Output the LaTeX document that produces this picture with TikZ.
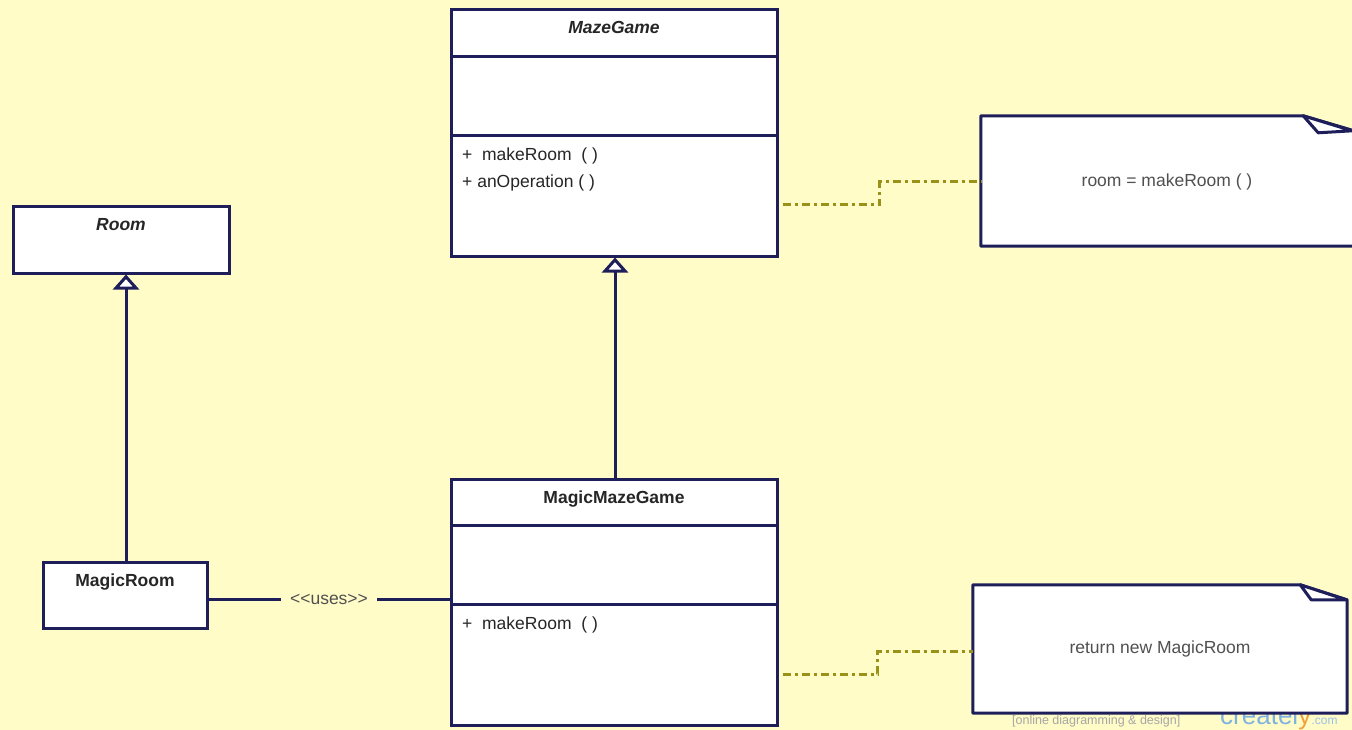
\documentclass[tikz,border=0pt]{standalone}
\usepackage{fontspec}
\setmainfont{Liberation Sans}
\usetikzlibrary{arrows.meta}

\definecolor{paper}{HTML}{FFFCC8}
\definecolor{navy}{HTML}{1E1E5A}
\definecolor{olive}{HTML}{9A9218}
\definecolor{notetext}{HTML}{505050}
\definecolor{brandblue}{HTML}{7FB2E0}
\definecolor{brandorange}{HTML}{F2A23A}

\tikzset{
  classbox/.style={draw=navy, line width=3pt, fill=white, rectangle, inner sep=0pt},
  rule/.style={draw=navy, line width=3pt},
  notebox/.style={draw=navy, line width=3pt, fill=white, line join=round},
  noteframe/.style={rectangle, inner sep=0pt},
  lbl/.style={inner sep=0pt, font=\fontsize{17.5}{20}\selectfont, text=black!85},
  notelbl/.style={inner sep=0pt, font=\fontsize{17.5}{20}\selectfont, text=notetext},
  inherit/.style={draw=navy, line width=3pt,
    -{Triangle[length=15pt, width=26pt, fill=white, line width=3pt]}},
  assoc/.style={draw=navy, line width=3pt},
  noteline/.style={draw=olive, line width=3pt,
    dash pattern=on 8pt off 4pt on 3pt off 4pt, dash phase=15pt},
}

\begin{document}
\begin{tikzpicture}[x=1pt, y=-1pt]
  \fill[paper] (0,0) rectangle (1352,730);
  \useasboundingbox (0,0) rectangle (1352,730);

  % watermark, lying under the lower note
  \node[anchor=base west, inner sep=0pt, text=black!35,
        font=\fontsize{12.5}{14}\selectfont] (wmtag) at (1012,724)
        {[online diagramming \& design]};
  \node[anchor=base west, inner sep=0pt,
        font=\fontsize{26}{28}\selectfont] (wmname) at (1220,724)
        {\textcolor{brandblue}{createl}\textcolor{brandorange}{y}};
  \node[anchor=base west, inner sep=0pt, text=brandblue!80,
        font=\fontsize{12}{13}\selectfont] (wmcom) at (wmname.base east)
        {.com};

  % classes
  \node[classbox, minimum width=326pt, minimum height=246pt] (maze) at (614,133) {};
  \draw[rule] (451,57) -- (777,57);
  \draw[rule] (451,136) -- (777,136);
  \node[lbl, anchor=base] (mazetitle) at (614,34) {\bfseries\itshape MazeGame};
  \node[lbl, anchor=base west] (mazeop1) at (462,161) {+\ \ makeRoom\ \ ( )};
  \node[lbl, anchor=base west] (mazeop2) at (462,188) {+ anOperation ( )};

  \node[classbox, minimum width=326pt, minimum height=246pt] (magicmaze) at (614,602) {};
  \draw[rule] (451,525) -- (777,525);
  \draw[rule] (451,604) -- (777,604);
  \node[lbl, anchor=base] (magicmazetitle) at (614,503) {\bfseries MagicMazeGame};
  \node[lbl, anchor=base west] (magicmazeop1) at (462,629) {+\ \ makeRoom\ \ ( )};

  \node[classbox, minimum width=216pt, minimum height=66pt] (room) at (121,240) {};
  \node[lbl, anchor=base] (roomtitle) at (121,231) {\bfseries\itshape Room};

  \node[classbox, minimum width=164pt, minimum height=66pt] (magicroom) at (125,595) {};
  \node[lbl, anchor=base] (magicroomtitle) at (125,586) {\bfseries MagicRoom};

  % generalisations
  \draw[inherit] ([xshift=1pt]magicmaze.north) -- ([xshift=1pt]maze.south);
  \draw[inherit] ([xshift=1pt]magicroom.north) -- ([xshift=1pt]magicroom.north |- room.south);

  % dependency
  \draw[assoc] ([yshift=-4pt]magicroom.east)
    -- node[notelbl, fill=paper, inner xsep=9pt, inner ysep=2pt]
       {<\kern0pt<uses>\kern0pt>}
    ([yshift=-4pt]magicroom.east -| magicmaze.west);

  % notes
  \node[noteframe, minimum width=373pt, minimum height=130pt] (note1) at (1167.5,181) {};
  \draw[notebox] (note1.north west) -- ([xshift=-51pt]note1.north east)
    -- ([yshift=-15pt]note1.north east) -- (note1.south east)
    -- (note1.south west) -- cycle;
  \draw[notebox] ([xshift=-51pt]note1.north east)
    -- ([xshift=-36pt, yshift=-17pt]note1.north east)
    -- ([xshift=-2pt, yshift=-15pt]note1.north east) -- cycle;
  \node[notelbl] (note1text) at (1167,182) {room = makeRoom ( )};

  \node[noteframe, minimum width=374pt, minimum height=128pt] (note2) at (1160,649) {};
  \draw[notebox] (note2.north west) -- ([xshift=-47pt]note2.north east)
    -- ([yshift=-15pt]note2.north east) -- (note2.south east)
    -- (note2.south west) -- cycle;
  \draw[notebox] ([xshift=-47pt]note2.north east)
    -- ([xshift=-36pt, yshift=-15pt]note2.north east)
    -- ([xshift=-1pt, yshift=-15pt]note2.north east) -- cycle;
  \node[notelbl] (note2text) at (1160,649) {return new MagicRoom};

  % note anchors
  \draw[noteline] ([yshift=-72pt]maze.east) -- ++(101,0) |- ([yshift=-1pt]note1.west);
  \draw[noteline] ([yshift=-72pt]magicmaze.east) -- ++(99,0) |- ([yshift=-2pt]note2.west);
\end{tikzpicture}
\end{document}
